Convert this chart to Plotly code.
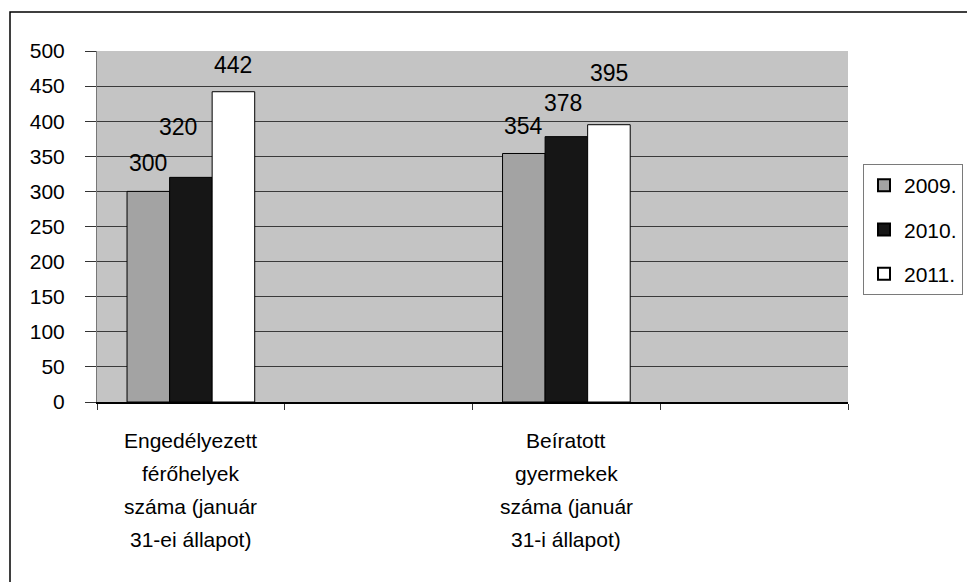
import plotly.graph_objects as go

# ---- data ----
categories = ["Engedélyezett férőhelyek száma (január 31-ei állapot)",
              "Beíratott gyermekek száma (január 31-i állapot)"]
category_lines = [["Engedélyezett", "férőhelyek", "száma (január", "31-ei állapot)"],
                  ["Beíratott", "gyermekek", "száma (január", "31-i állapot)"]]
spacers = ["_sp1", "_sp2"]
series_names = ["2009.", "2010.", "2011."]
values_2009 = [300, 354]
values_2010 = [320, 378]
values_2011 = [442, 395]
y_ticks = [0, 50, 100, 150, 200, 250, 300, 350, 400, 450, 500]

# ---- style ----
series_values = [values_2009, values_2010, values_2011]
colors = ["#a3a3a3", "#161616", "#ffffff"]
label_yshift = [[28, 27], [50, 34], [27, 52]]
label_xshift = [[0, 0], [-13, -3], [0, 0]]
FONT = "Liberation Sans, Arial, sans-serif"

OFF = 8  # default page body margin
W, H = 975 - OFF, 582 - OFF
ML, MR, MT, MB = 97 - OFF, 127, 51 - OFF, 180
PW, PH = W - ML - MR, H - MT - MB
bargap = 0.32

def px_x(page_x):
    return (page_x - OFF - ML) / PW

def px_y(page_y):
    return (OFF + MT + PH - page_y) / PH

axis_order = [categories[0], spacers[0], categories[1], spacers[1]]
cat_pos = {c: i for i, c in enumerate(axis_order)}

fig = go.Figure()
# invisible trace so the empty category slots exist on the axis
fig.add_trace(go.Scatter(x=axis_order, y=[0] * 4, mode="markers",
                         marker=dict(opacity=0), showlegend=False,
                         hoverinfo="skip"))

for i, (name, vals, col) in enumerate(zip(series_names, series_values, colors)):
    fig.add_trace(go.Bar(x=categories, y=vals, name=name, legendgroup=name,
                         marker=dict(color=col, line=dict(color="#000000", width=1))))

cat_px = PW / len(axis_order)
bar_px = cat_px * (1 - bargap) / len(series_names)
annotations = []
for i, vals in enumerate(series_values):
    for j, v in enumerate(vals):
        annotations.append(dict(
            x=cat_pos[categories[j]], y=v, xref="x", yref="y",
            text=str(v), showarrow=False, yanchor="middle",
            xshift=(i - 1) * bar_px + label_xshift[i][j],
            yshift=label_yshift[i][j],
            font=dict(family=FONT, size=23, color="#000000")))

for j, lines in enumerate(category_lines):
    for k, line in enumerate(lines):
        annotations.append(dict(
            x=cat_pos[categories[j]], y=0, xref="x", yref="paper",
            text=line, showarrow=False, yanchor="middle",
            yshift=-(38 + k * 33.3),
            font=dict(family=FONT, size=21, color="#000000")))

fig.update_layout(
    width=W, height=H,
    margin=dict(l=ML, r=MR, t=MT, b=MB),
    paper_bgcolor="#ffffff",
    plot_bgcolor="#c4c4c4",
    barmode="group", bargap=bargap, bargroupgap=0,
    font=dict(family=FONT, size=20, color="#000000"),
    showlegend=True,
    legend=dict(x=px_x(863), y=px_y(164), xanchor="left", yanchor="top",
                bgcolor="#ffffff", bordercolor="#7a7a7a", borderwidth=1,
                font=dict(family=FONT, size=21, color="#000000"),
                tracegroupgap=14, itemsizing="constant", itemwidth=30),
    annotations=annotations,
    shapes=[dict(type="rect", xref="paper", yref="paper",
                 x0=px_x(10), x1=px_x(995),
                 y0=px_y(600), y1=px_y(12),
                 line=dict(color="#000000", width=1.5), layer="below")],
)

fig.update_xaxes(type="category", categoryorder="array", categoryarray=axis_order,
                 range=[-0.5, 3.5], showticklabels=False, showgrid=False,
                 ticks="outside", tickson="boundaries", ticklen=6,
                 tickcolor="#333333", showline=True, linecolor="#000000",
                 linewidth=1.5, zeroline=False)
fig.update_yaxes(range=[0, 500], tickvals=y_ticks, ticks="outside", ticklen=11,
                 ticklabelstandoff=16,
                 tickcolor="#333333", showgrid=True, gridcolor="#3a3a3a",
                 gridwidth=1, showline=True, linecolor="#777777", linewidth=1,
                 zeroline=False, tickfont=dict(family=FONT, size=21, color="#000000"))

fig.write_html("out.html")
